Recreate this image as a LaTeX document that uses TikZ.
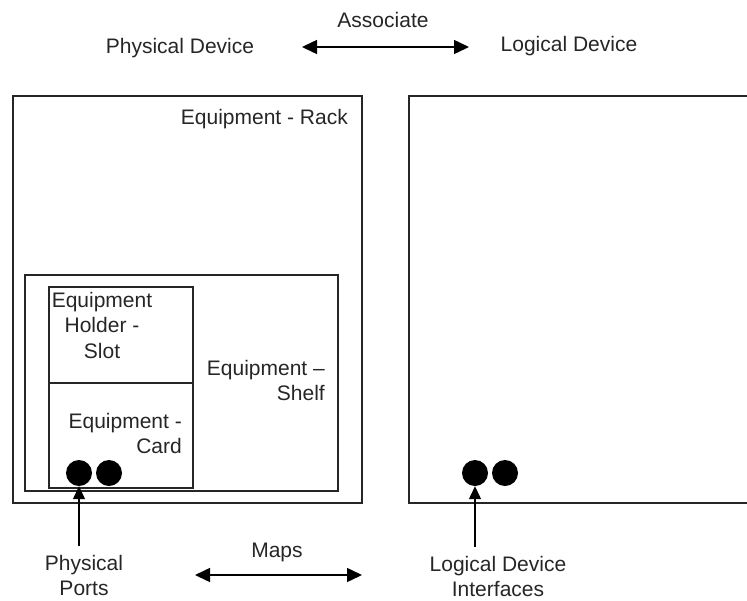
\documentclass[tikz,border=0pt]{standalone}
\usepackage{fontspec}
\setmainfont{Liberation Sans}
\usetikzlibrary{arrows.meta}

\begin{document}
\begin{tikzpicture}[x=1pt, y=-1pt,
    lbl/.style={inner sep=0pt, text=black!85, font=\fontsize{21}{25.5}\selectfont},
    frame/.style={draw=black!85, line width=1.3pt},
    port/.style={circle, fill=black, minimum size=26pt, inner sep=0pt},
    ar/.style={<->, >={Triangle[length=15pt, width=14pt]}, line width=1.5pt},
    par/.style={-{Triangle[length=13pt, width=12pt]}, line width=1.3pt, shorten <=9pt}
  ]
  \useasboundingbox (0,0) rectangle (747,600);

  % top row
  \node[lbl, anchor=base] (phys) at (180,53) {Physical Device};
  \node[lbl, anchor=base] (assoc) at (383,27) {Associate};
  \node[lbl, anchor=base] (logic) at (569,51) {Logical Device};
  \coordinate (assocL) at (302,47);
  \coordinate (assocR) at (469,47);
  \draw[ar] (assocL) -- (assocR);

  % physical device
  \draw[frame] (13,96) rectangle (362,503);
  \draw[frame] (25,275) rectangle (338,491);
  \draw[frame] (49,287) rectangle (193,383);
  \draw[frame] (49,383) rectangle (193,488);
  \node[lbl, anchor=base east] (rack) at (348,124) {Equipment - Rack};
  \node[lbl, anchor=north east, align=right] (shelf) at (325,360) {Equipment –\\Shelf};
  \node[lbl, anchor=north, align=center] (slot) at (102,292) {Equipment\\Holder -\\Slot};
  \node[lbl, anchor=north east, align=right] (card) at (182,413) {Equipment -\\Card};
  \node[port] (pp1) at (79,473) {};
  \node[port] (pp2) at (109,473) {};

  % logical device
  \draw[frame] (748,96) -- (409,96) -- (409,503) -- (748,503);
  \node[port] (li1) at (475,473) {};
  \node[port] (li2) at (505,473) {};

  % bottom row
  \node[lbl, anchor=north, align=center] (pports) at (84,555) {Physical\\Ports};
  \node[lbl, anchor=north, align=center] (ldi) at (498,556) {Logical Device\\Interfaces};
  \node[lbl, anchor=base] (maps) at (277,557) {Maps};
  \coordinate (mapsL) at (195,575);
  \coordinate (mapsR) at (362,575);

  \draw[par] (pports.north -| pp1) -- (pp1.south);
  \draw[par] (ldi.north -| li1) -- (li1.south);
  \draw[ar] (mapsL) -- (mapsR);
\end{tikzpicture}
\end{document}
